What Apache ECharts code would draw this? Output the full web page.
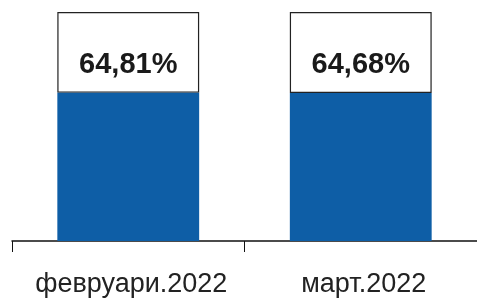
<!DOCTYPE html>
<html>
<head>
<meta charset="utf-8">
<script src="https://cdn.jsdelivr.net/npm/echarts@6/dist/echarts.min.js"></script>
<style>
  html, body { margin: 0; padding: 0; background: #fff; }
  #chart { width: 477px; height: 298px; }
</style>
</head>
<body>
<div id="chart"></div>
<script>
// месеци и вредности (%)
var months = ['февруари.2022', 'март.2022'];
var shareValues = [64.81, 64.68];
var restValues = [35.19, 35.32];

var chart = echarts.init(document.getElementById('chart'));

chart.setOption({
    animation: false,
    grid: { left: 12, right: 0, top: 12, bottom: 57 },
    xAxis: {
        type: 'category',
        data: months,
        axisLine: { lineStyle: { color: '#111', width: 1.5 } },
        axisTick: { show: true, length: 11, lineStyle: { color: '#111', width: 1 } },
        axisLabel: {
            interval: 0,
            color: '#222',
            fontFamily: 'Liberation Sans, Arial, sans-serif',
            fontSize: 27,
            margin: 30,
            padding: [0, 0, 0, 6]
        }
    },
    yAxis: {
        type: 'value',
        min: 0,
        max: 100,
        show: false
    },
    series: [{
        type: 'bar',
        stack: 'total',
        data: shareValues,
        barWidth: '61%',
        itemStyle: { color: '#0e5ea6' }
    }, {
        type: 'bar',
        stack: 'total',
        data: restValues,
        barWidth: '61%',
        itemStyle: { color: '#fff', borderColor: '#222', borderWidth: 1.2 },
        label: {
            show: true,
            position: 'inside',
            offset: [0, 13],
            color: '#1a1a1a',
            fontFamily: 'Liberation Sans, Arial, sans-serif',
            fontWeight: 'bold',
            fontSize: 29,
            formatter: function (p) {
                return shareValues[p.dataIndex].toFixed(2).replace('.', ',') + '%';
            }
        }
    }]
});
</script>
</body>
</html>
